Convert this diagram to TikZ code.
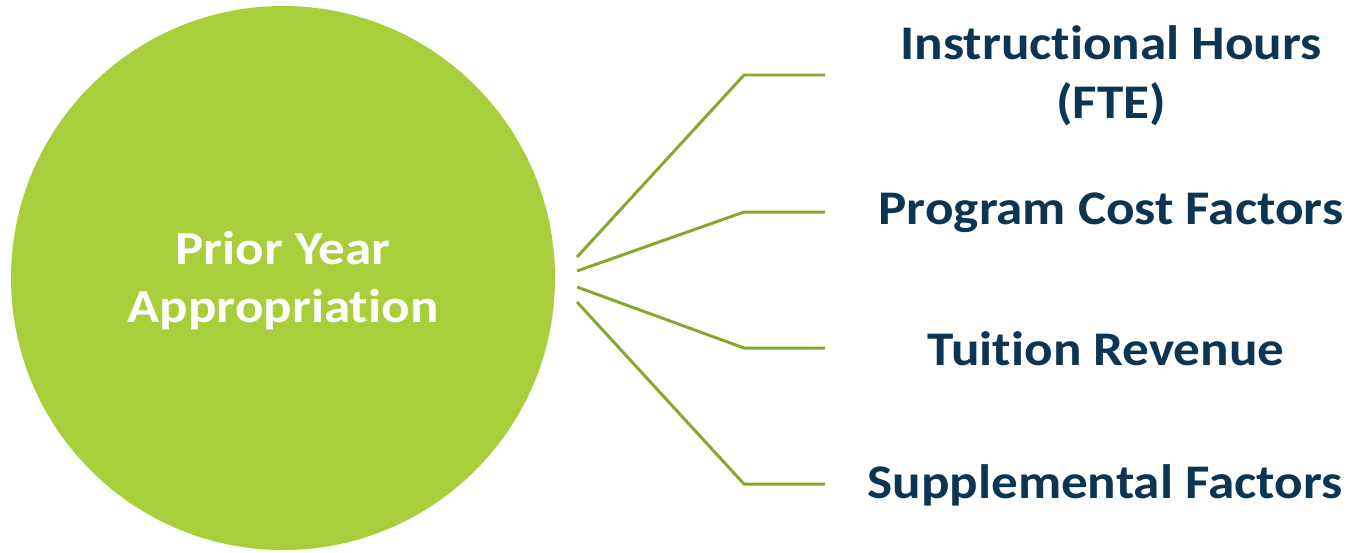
\documentclass[tikz,border=0pt]{standalone}
\usepackage{fontspec}
\setmainfont[Ligatures=NoCommon]{Carlito}
\usepackage{tikz}
\usetikzlibrary{calc}

\definecolor{apgreen}{HTML}{A8CE3B}
\definecolor{lngreen}{HTML}{86A830}
\definecolor{navy}{HTML}{0B3552}

\begin{document}
\begin{tikzpicture}[x=0.02cm, y=-0.02cm,
	factor/.style={align=center, text=navy, xscale=1.1, transform shape, font=\fontsize{27.5}{33.5}\selectfont\bfseries},
	branch/.style={lngreen, line width=1.7pt}]

\useasboundingbox (0,0) rectangle (1348,552);

\fill[apgreen] (283,278) circle (272*0.02cm);
\node[text=white, align=center, xscale=1.12, transform shape,
	font=\fontsize{27}{33}\selectfont\bfseries] (pya) at (283,281) {Prior Year\\Appropriation};

\node[factor] (hours) at (1111,76) {Instructional Hours\\(FTE)};
\node[factor] (cost) at (1111,213) {Program Cost Factors};
\node[factor] (tuition) at (1106,349) {Tuition Revenue};
\node[factor] (supp) at (1105,485) {Supplemental Factors};

\coordinate (s1) at (577,257);
\coordinate (s2) at (577,271);
\coordinate (s3) at (577,287);
\coordinate (s4) at (577,302);

\coordinate (b1) at (744,75);
\coordinate (b2) at (744,212);
\coordinate (b3) at (744,348);
\coordinate (b4) at (744,484);

\coordinate (e1) at (825,75);
\coordinate (e2) at (825,212);
\coordinate (e3) at (825,348);
\coordinate (e4) at (825,484);

\draw[branch] (s1) -- (b1) -- (e1);
\draw[branch] (s2) -- (b2) -- (e2);
\draw[branch] (s3) -- (b3) -- (e3);
\draw[branch] (s4) -- (b4) -- (e4);

\end{tikzpicture}
\end{document}
